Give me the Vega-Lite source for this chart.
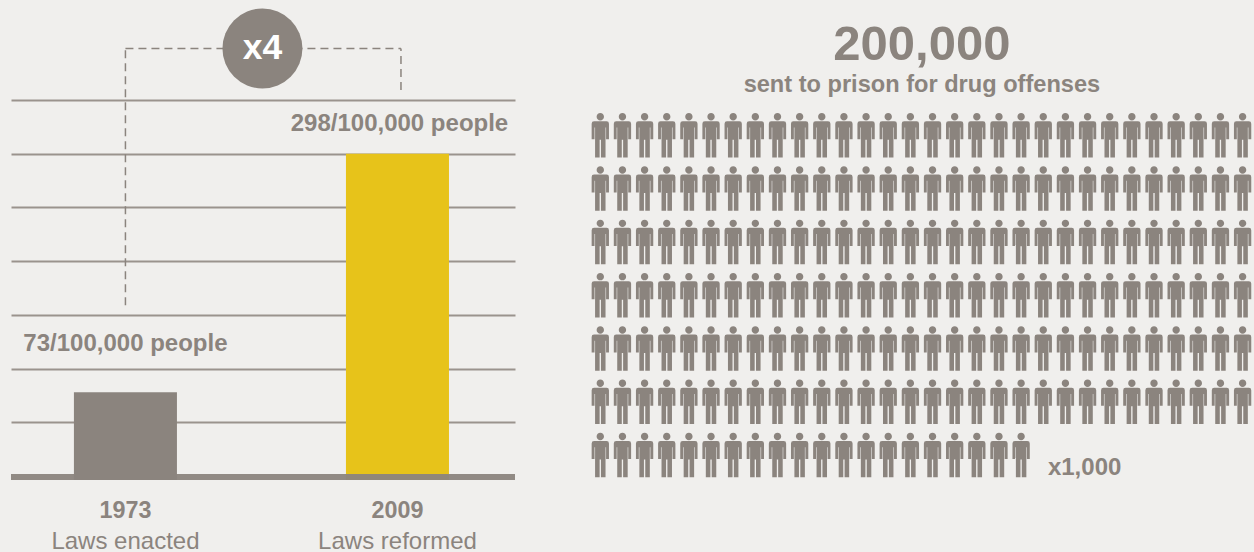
{"$schema":"https://vega.github.io/schema/vega-lite/v6.json","background":"#f0efed","padding":{"left":8,"top":0,"right":0,"bottom":0},"spacing":0,"config":{"view":{"stroke":null},"font":"Liberation Sans","text":{"color":"#8b847e","baseline":"alphabetic"},"concat":{"spacing":0}},"hconcat":[{"width":504,"height":552,"layer":[{"data":{"values":[{"year":"1973","rate":78,"base":-3.7,"note":"Laws enacted","color":"#8b847e"},{"year":"2009","rate":300,"base":-3.7,"note":"Laws reformed","color":"#e7c31a"}]},"mark":{"type":"bar"},"encoding":{"x":{"field":"year","type":"nominal","sort":null,"title":null,"axis":null,"scale":{"domain":["1973","2009"],"paddingInner":0.6213,"paddingOuter":0.237,"align":0.488}},"y":{"field":"rate","type":"quantitative","title":null,"scale":{"domain":[-70.75,443.1],"nice":false,"zero":false},"axis":{"values":[50,100,150,200,250,300,350],"grid":true,"gridColor":"#9a938d","gridWidth":2,"labels":false,"ticks":false,"domain":false,"title":null}},"y2":{"field":"base"},"color":{"field":"color","type":"nominal","scale":null}}},{"data":{"values":[{}]},"mark":{"type":"rule","stroke":"#8b847e","strokeWidth":6,"opacity":0.95},"encoding":{"y":{"datum":-1}}},{"data":{"values":[{}]},"mark":{"type":"rule","stroke":"#8b847e","strokeWidth":1.5,"strokeDash":[8,5]},"encoding":{"x":{"datum":"1973"},"y":{"datum":159},"y2":{"datum":398}}},{"data":{"values":[{}]},"mark":{"type":"rule","stroke":"#8b847e","strokeWidth":1.5,"strokeDash":[8,5],"xOffset":3.5},"encoding":{"x":{"datum":"2009"},"y":{"datum":359.3},"y2":{"datum":398}}},{"data":{"values":[{}]},"mark":{"type":"rule","stroke":"#8b847e","strokeWidth":1.5,"strokeDash":[8,5],"x2Offset":3.5},"encoding":{"x":{"datum":"1973","bandPosition":0.5},"x2":{"datum":"2009","bandPosition":0.5},"y":{"datum":398}}},{"data":{"values":[{}]},"mark":{"type":"point","filled":true,"shape":"circle","size":6400,"color":"#8b847e","opacity":1,"xOffset":137},"encoding":{"x":{"datum":"1973"},"y":{"datum":398}}},{"data":{"values":[{}]},"mark":{"type":"text","color":"#ffffff","fontSize":35.5,"fontWeight":"bold","xOffset":137,"baseline":"middle"},"encoding":{"x":{"datum":"1973"},"y":{"datum":398},"text":{"value":"x4"}}},{"data":{"values":[{"year":"1973"}]},"mark":{"type":"text","fontSize":24,"fontWeight":"bold"},"encoding":{"x":{"field":"year","type":"nominal"},"y":{"datum":116.4},"text":{"value":"73/100,000 people"}}},{"data":{"values":[{"year":"2009"}]},"mark":{"type":"text","fontSize":24,"fontWeight":"bold","xOffset":2},"encoding":{"x":{"field":"year","type":"nominal"},"y":{"datum":321},"text":{"value":"298/100,000 people"}}},{"data":{"values":[{"year":"1973","note":"Laws enacted"},{"year":"2009","note":"Laws reformed"}]},"layer":[{"mark":{"type":"text","fontSize":23.3,"fontWeight":"bold"},"encoding":{"x":{"field":"year","type":"nominal"},"y":{"datum":-39},"text":{"field":"year"}}},{"mark":{"type":"text","fontSize":24,"fontWeight":"normal"},"encoding":{"x":{"field":"year","type":"nominal"},"y":{"datum":-68},"text":{"field":"note"}}}]}]},{"width":739,"height":552,"layer":[{"data":{"values":[{"row":0,"col":0},{"row":0,"col":1},{"row":0,"col":2},{"row":0,"col":3},{"row":0,"col":4},{"row":0,"col":5},{"row":0,"col":6},{"row":0,"col":7},{"row":0,"col":8},{"row":0,"col":9},{"row":0,"col":10},{"row":0,"col":11},{"row":0,"col":12},{"row":0,"col":13},{"row":0,"col":14},{"row":0,"col":15},{"row":0,"col":16},{"row":0,"col":17},{"row":0,"col":18},{"row":0,"col":19},{"row":0,"col":20},{"row":0,"col":21},{"row":0,"col":22},{"row":0,"col":23},{"row":0,"col":24},{"row":0,"col":25},{"row":0,"col":26},{"row":0,"col":27},{"row":0,"col":28},{"row":0,"col":29},{"row":1,"col":0},{"row":1,"col":1},{"row":1,"col":2},{"row":1,"col":3},{"row":1,"col":4},{"row":1,"col":5},{"row":1,"col":6},{"row":1,"col":7},{"row":1,"col":8},{"row":1,"col":9},{"row":1,"col":10},{"row":1,"col":11},{"row":1,"col":12},{"row":1,"col":13},{"row":1,"col":14},{"row":1,"col":15},{"row":1,"col":16},{"row":1,"col":17},{"row":1,"col":18},{"row":1,"col":19},{"row":1,"col":20},{"row":1,"col":21},{"row":1,"col":22},{"row":1,"col":23},{"row":1,"col":24},{"row":1,"col":25},{"row":1,"col":26},{"row":1,"col":27},{"row":1,"col":28},{"row":1,"col":29},{"row":2,"col":0},{"row":2,"col":1},{"row":2,"col":2},{"row":2,"col":3},{"row":2,"col":4},{"row":2,"col":5},{"row":2,"col":6},{"row":2,"col":7},{"row":2,"col":8},{"row":2,"col":9},{"row":2,"col":10},{"row":2,"col":11},{"row":2,"col":12},{"row":2,"col":13},{"row":2,"col":14},{"row":2,"col":15},{"row":2,"col":16},{"row":2,"col":17},{"row":2,"col":18},{"row":2,"col":19},{"row":2,"col":20},{"row":2,"col":21},{"row":2,"col":22},{"row":2,"col":23},{"row":2,"col":24},{"row":2,"col":25},{"row":2,"col":26},{"row":2,"col":27},{"row":2,"col":28},{"row":2,"col":29},{"row":3,"col":0},{"row":3,"col":1},{"row":3,"col":2},{"row":3,"col":3},{"row":3,"col":4},{"row":3,"col":5},{"row":3,"col":6},{"row":3,"col":7},{"row":3,"col":8},{"row":3,"col":9},{"row":3,"col":10},{"row":3,"col":11},{"row":3,"col":12},{"row":3,"col":13},{"row":3,"col":14},{"row":3,"col":15},{"row":3,"col":16},{"row":3,"col":17},{"row":3,"col":18},{"row":3,"col":19},{"row":3,"col":20},{"row":3,"col":21},{"row":3,"col":22},{"row":3,"col":23},{"row":3,"col":24},{"row":3,"col":25},{"row":3,"col":26},{"row":3,"col":27},{"row":3,"col":28},{"row":3,"col":29},{"row":4,"col":0},{"row":4,"col":1},{"row":4,"col":2},{"row":4,"col":3},{"row":4,"col":4},{"row":4,"col":5},{"row":4,"col":6},{"row":4,"col":7},{"row":4,"col":8},{"row":4,"col":9},{"row":4,"col":10},{"row":4,"col":11},{"row":4,"col":12},{"row":4,"col":13},{"row":4,"col":14},{"row":4,"col":15},{"row":4,"col":16},{"row":4,"col":17},{"row":4,"col":18},{"row":4,"col":19},{"row":4,"col":20},{"row":4,"col":21},{"row":4,"col":22},{"row":4,"col":23},{"row":4,"col":24},{"row":4,"col":25},{"row":4,"col":26},{"row":4,"col":27},{"row":4,"col":28},{"row":4,"col":29},{"row":5,"col":0},{"row":5,"col":1},{"row":5,"col":2},{"row":5,"col":3},{"row":5,"col":4},{"row":5,"col":5},{"row":5,"col":6},{"row":5,"col":7},{"row":5,"col":8},{"row":5,"col":9},{"row":5,"col":10},{"row":5,"col":11},{"row":5,"col":12},{"row":5,"col":13},{"row":5,"col":14},{"row":5,"col":15},{"row":5,"col":16},{"row":5,"col":17},{"row":5,"col":18},{"row":5,"col":19},{"row":5,"col":20},{"row":5,"col":21},{"row":5,"col":22},{"row":5,"col":23},{"row":5,"col":24},{"row":5,"col":25},{"row":5,"col":26},{"row":5,"col":27},{"row":5,"col":28},{"row":5,"col":29},{"row":6,"col":0},{"row":6,"col":1},{"row":6,"col":2},{"row":6,"col":3},{"row":6,"col":4},{"row":6,"col":5},{"row":6,"col":6},{"row":6,"col":7},{"row":6,"col":8},{"row":6,"col":9},{"row":6,"col":10},{"row":6,"col":11},{"row":6,"col":12},{"row":6,"col":13},{"row":6,"col":14},{"row":6,"col":15},{"row":6,"col":16},{"row":6,"col":17},{"row":6,"col":18},{"row":6,"col":19}]},"mark":{"type":"point","filled":true,"opacity":1,"color":"#8b847e","size":1980,"shape":"M0,-1A.166,.166 0 1,1 0,-.668A.166,.166 0 1,1 0,-1ZM-.28,-.63L.28,-.63Q.389,-.63 .389,-.52L.389,.18L.26,.18L.26,-.35L.235,-.35L.235,1L.03,1L.03,.2L-.03,.2L-.03,1L-.235,1L-.235,-.35L-.26,-.35L-.26,.18L-.389,.18L-.389,-.52Q-.389,-.63 -.28,-.63Z"},"encoding":{"x":{"field":"col","type":"quantitative","axis":null,"scale":{"domain":[-3.716,29.65],"nice":false,"zero":false}},"y":{"field":"row","type":"quantitative","axis":null,"scale":{"domain":[-2.538,7.818],"nice":false,"zero":false,"reverse":true}}}},{"data":{"values":[{}]},"mark":{"type":"text","fontSize":49,"fontWeight":"bold"},"encoding":{"x":{"datum":14.52},"y":{"datum":-1.413},"text":{"value":"200,000"}}},{"data":{"values":[{}]},"mark":{"type":"text","fontSize":23.6,"fontWeight":"bold"},"encoding":{"x":{"datum":14.52},"y":{"datum":-0.812},"text":{"value":"sent to prison for drug offenses"}}},{"data":{"values":[{}]},"mark":{"type":"text","fontSize":24,"fontWeight":"bold","align":"left"},"encoding":{"x":{"datum":20.21},"y":{"datum":6.37},"text":{"value":"x1,000"}}}]}]}
